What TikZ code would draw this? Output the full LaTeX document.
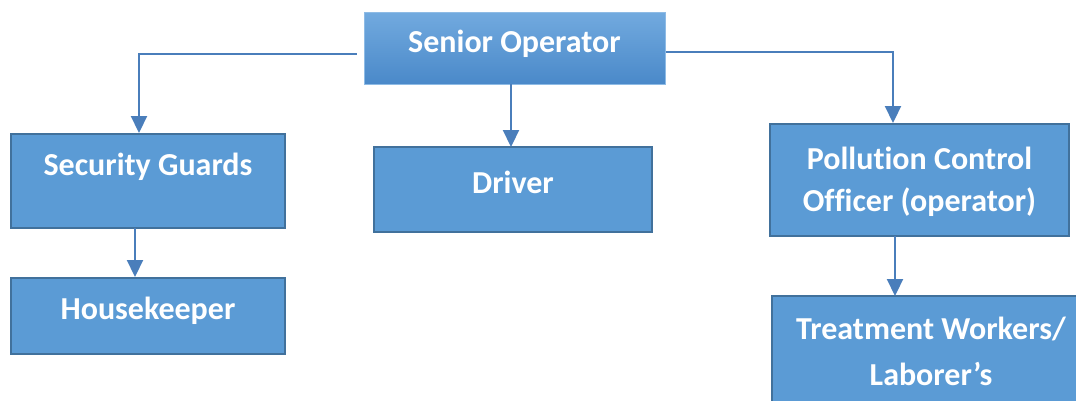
\documentclass[tikz,border=0pt]{standalone}
\usepackage{fontspec}
\setmainfont{Carlito}[RawFeature=-liga]
\usetikzlibrary{arrows.meta}
\definecolor{boxfill}{HTML}{5B9BD5}
\definecolor{boxedge}{HTML}{41719C}
\definecolor{linec}{HTML}{4A7EBB}
\definecolor{gtop}{HTML}{72AADF}
\definecolor{gbot}{HTML}{4A89C9}
\tikzset{
  x=1pt, y=-1pt,
  box/.style={draw=boxedge, line width=2pt, fill=boxfill, rectangle, inner sep=0pt},
  topbox/.style={draw=gtop!80!white, line width=1pt, top color=gtop, bottom color=gbot, rectangle, inner sep=0pt},
  txt/.style={text=white, font=\bfseries\fontsize{32}{38}\selectfont, align=center, inner sep=0pt},
  conn/.style={draw=linec, line width=2.2pt, -{Triangle[length=17pt,width=16pt]}}
}
\begin{document}
\begin{tikzpicture}
\useasboundingbox (0,0) rectangle (1076,400);
% boxes
\node[topbox, minimum width=301pt, minimum height=72pt] (so) at (514.5,48) {};
\node[box, minimum width=274pt, minimum height=94pt] (sg) at (148,181) {};
\node[box, minimum width=274pt, minimum height=76pt] (hk) at (148,316) {};
\node[box, minimum width=278pt, minimum height=85pt] (dr) at (513,189.5) {};
\node[box, minimum width=299pt, minimum height=112pt] (pc) at (919.5,180) {};
\node[box, minimum width=310pt, minimum height=120pt] (tw) at (927,356) {};
% texts
\node[txt] at (514.5,44) {Senior Operator};
\node[txt] at (148,167) {Security Guards};
\node[txt] at (148,311) {Housekeeper};
\node[txt] at (513,182) {Driver};
\node[txt] at (919.5,158) {Pollution Control};
\node[txt] at (919.5,202) {Officer (operator)};
\node[txt] at (931,329) {Treatment Workers/};
\node[txt] at (931,374) {Laborer’s};
% connectors
\coordinate (lc) at (139,54);
\coordinate (rc) at (893,52);
\draw[conn, shorten <=7pt] (so.west |- lc) -- (lc) -- (lc |- sg.north);
\draw[conn] (so.east |- rc) -- (rc) -- (rc |- pc.north);
\draw[conn] (511,84) -- (511,147);
\draw[conn] (135,228) -- (135,277);
\draw[conn] (895,236) -- (895,296);
\end{tikzpicture}
\end{document}
